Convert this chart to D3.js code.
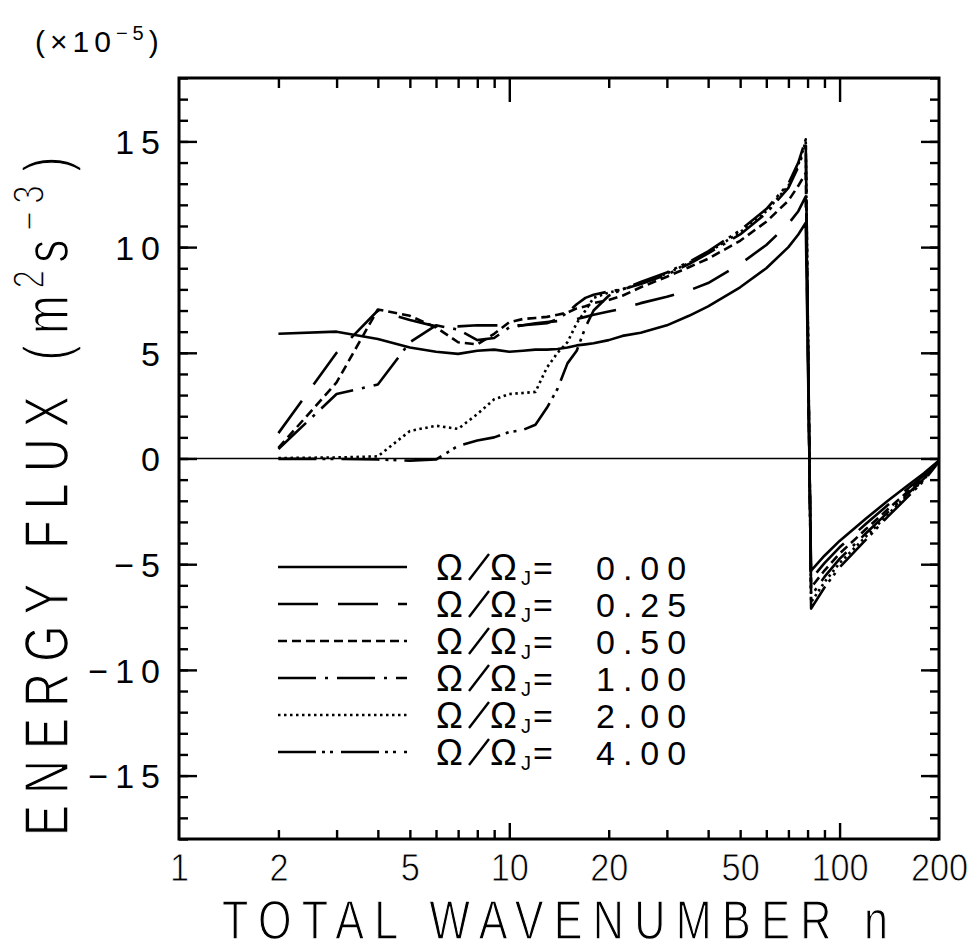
<!DOCTYPE html>
<html>
<head>
<meta charset="utf-8">
<script src="https://cdn.jsdelivr.net/npm/d3@7"></script>
<style>
  html, body { margin: 0; padding: 0; background: #fff; }
  svg { display: block; }
</style>
</head>
<body>
<svg id="chart" width="978" height="950"></svg>
<script>
// ---- data ----
const wavenumbers = [2,3,4,5,6,7,8,9,10,11,12,13,14,15,16,17,18,20,22,25,30,35,40,50,60,70,75,79,82,90,100,120,140,160,180,200];
const flux000 = [5.9,6.0,5.65,5.25,5.05,4.95,5.1,5.15,5.05,5.1,5.15,5.15,5.18,5.25,5.35,5.4,5.45,5.6,5.8,5.95,6.3,6.75,7.2,8.1,9.0,10.0,10.6,11.15,-5.3,-4.6,-3.9,-2.85,-2.0,-1.3,-0.7,-0.1];
const flux025 = [1.2,5.0,7.0,6.55,6.25,6.25,6.3,6.3,6.3,6.3,6.4,6.45,6.5,6.55,6.6,6.7,6.8,6.95,7.1,7.35,7.65,7.95,8.3,9.2,10.1,11.1,11.7,12.4,-5.7,-4.95,-4.2,-3.1,-2.2,-1.45,-0.8,-0.1];
const flux050 = [0.5,3.6,7.05,6.75,6.2,5.5,5.4,5.9,6.45,6.6,6.65,6.7,6.8,6.9,7.1,7.2,7.35,7.5,7.7,8.1,8.6,9.05,9.45,10.3,11.2,12.2,12.9,13.5,-6.1,-5.3,-4.5,-3.35,-2.4,-1.6,-0.9,-0.12];
const flux100 = [0.45,3.05,3.5,5.5,6.3,6.1,5.6,5.7,6.2,6.3,6.35,6.4,6.6,6.9,7.3,7.6,7.75,7.9,8.0,8.25,8.7,9.2,9.7,10.6,11.6,12.8,13.8,14.8,-6.5,-5.6,-4.75,-3.55,-2.55,-1.7,-0.95,-0.12];
const flux200 = [0.02,0.05,0.1,1.3,1.55,1.4,2.1,2.8,3.05,3.1,3.15,4.3,5.0,5.5,6.4,7.0,7.6,7.85,8.0,8.3,8.75,9.25,9.75,10.7,11.7,12.9,13.9,15.0,-6.8,-5.85,-4.95,-3.7,-2.65,-1.75,-1.0,-0.12];
const flux400 = [-0.02,-0.02,-0.05,-0.1,-0.05,0.6,0.85,1.0,1.25,1.35,1.6,2.4,3.3,4.5,5.1,6.2,7.0,7.7,8.0,8.35,8.8,9.3,9.8,10.8,11.8,13.0,14.0,15.1,-7.1,-6.1,-5.15,-3.85,-2.75,-1.85,-1.05,-0.15];
const seriesValues = ["0.00","0.25","0.50","1.00","2.00","4.00"];
const xTickLabels = [1,2,5,10,20,50,100,200];
const xMajorTicks = [10,100];
const xMinorTicks = [2,3,4,5,6,7,8,9,20,30,40,50,60,70,80,90];
const yTickLabels = [-15,-10,-5,0,5,10,15];
const yMinorTicks = d3.range(-18,19,1);

// ---- styles ----
const dashes = [null, "40,20", "9,5", "38,9,3,9", "2.5,3.5", "38,6,3,5,3,8"];
const allFlux = [flux000, flux025, flux050, flux100, flux200, flux400];

const L = 179, R = 939, T = 78, B = 839;
const svg = d3.select("#chart");
const x = d3.scaleLog().domain([1,200]).range([L,R]);
const y = d3.scaleLinear().domain([-18,18]).range([B,T]);

const tickFont = "'Liberation Sans', Arial, sans-serif";

// zero line
svg.append("line").attr("x1", L).attr("x2", R).attr("y1", y(0)).attr("y2", y(0))
  .attr("stroke", "#000").attr("stroke-width", 1.6);

// data lines
const line = d3.line().x(d => x(d.n)).y(d => y(d.v));
allFlux.forEach((arr, i) => {
  const pts = wavenumbers.map((n, j) => ({n, v: arr[j]}));
  svg.append("path").datum(pts).attr("d", line)
    .attr("fill", "none").attr("stroke", "#000").attr("stroke-width", 2.6)
    .attr("stroke-linejoin", "round")
    .attr("stroke-dasharray", dashes[i]);
});

// ticks via d3 axes (inward)
function styleAxis(g) {
  g.select(".domain").remove();
  g.selectAll("line").attr("stroke", "#000").attr("stroke-width", 2.4);
  g.selectAll("text").remove();
}
svg.append("g").attr("transform", `translate(0,${B})`)
  .call(d3.axisBottom(x).tickValues(xMinorTicks).tickSize(-9).tickFormat("")).call(styleAxis);
svg.append("g").attr("transform", `translate(0,${B})`)
  .call(d3.axisBottom(x).tickValues(xMajorTicks).tickSize(-16).tickFormat("")).call(styleAxis);
svg.append("g").attr("transform", `translate(0,${T})`)
  .call(d3.axisTop(x).tickValues(xMinorTicks).tickSize(-10).tickFormat("")).call(styleAxis);
svg.append("g").attr("transform", `translate(0,${T})`)
  .call(d3.axisTop(x).tickValues(xMajorTicks).tickSize(-24).tickFormat("")).call(styleAxis);
svg.append("g").attr("transform", `translate(${L},0)`)
  .call(d3.axisLeft(y).tickValues(yMinorTicks).tickSize(-9).tickFormat("")).call(styleAxis);
svg.append("g").attr("transform", `translate(${L},0)`)
  .call(d3.axisLeft(y).tickValues(yTickLabels).tickSize(-18).tickFormat("")).call(styleAxis);
svg.append("g").attr("transform", `translate(${R},0)`)
  .call(d3.axisRight(y).tickValues(yMinorTicks).tickSize(-9).tickFormat("")).call(styleAxis);
svg.append("g").attr("transform", `translate(${R},0)`)
  .call(d3.axisRight(y).tickValues(yTickLabels).tickSize(-18).tickFormat("")).call(styleAxis);

// frame
svg.append("rect").attr("x", L).attr("y", T).attr("width", R-L).attr("height", B-T)
  .attr("fill", "none").attr("stroke", "#000").attr("stroke-width", 3);

// x tick labels
const gx = svg.append("g").attr("transform", `translate(0,${B})`)
  .call(d3.axisBottom(x).tickValues(xTickLabels).tickSize(0).tickPadding(14).tickFormat(d3.format("d")));
gx.select(".domain").remove();
gx.selectAll("text").attr("font-family", tickFont).attr("font-size", 39).attr("fill", "#000")
  .attr("stroke", "#fff").attr("stroke-width", 0.8)
  .attr("transform", "scale(0.88,1)");

// y tick labels
const gy = svg.append("g").attr("transform", `translate(${L},0)`)
  .call(d3.axisLeft(y).tickValues(yTickLabels).tickSize(0).tickPadding(12)
    .tickFormat(d => d < 0 ? "\u2212" + Math.abs(d) : String(d)));
gy.select(".domain").remove();
gy.selectAll("text").attr("font-family", tickFont).attr("font-size", 34).attr("fill", "#000")
  .attr("letter-spacing", 7).attr("dy", "0.36em");

// x title
svg.append("text").attr("transform", "translate(222,939) scale(0.77,1)")
  .attr("font-family", tickFont).attr("font-size", 56).attr("fill", "#000")
  .attr("stroke", "#fff").attr("stroke-width", 1.3)
  .attr("textLength", 666/0.77).attr("lengthAdjust", "spacing")
  .text("TOTAL WAVENUMBER n");

// y title
const yt = svg.append("text").attr("transform", "translate(68,836) rotate(-90) scale(0.75,1)")
  .attr("font-family", tickFont).attr("font-size", 62).attr("fill", "#000")
  .attr("stroke", "#fff").attr("stroke-width", 1.4);
yt.append("tspan").attr("letter-spacing", 15).text("ENERGY FLUX (m");
yt.append("tspan").attr("font-size", 44).attr("dy", -24).attr("dx", -6).attr("letter-spacing", 10).text("2");
yt.append("tspan").attr("dy", 24).attr("letter-spacing", 12).text("s");
yt.append("tspan").attr("font-size", 44).attr("dy", -24).attr("letter-spacing", 10).text("\u22123");
yt.append("tspan").attr("dy", 24).attr("dx", 8).text(")");

// multiplier
const mt = svg.append("text").attr("x", 35).attr("y", 52)
  .attr("font-family", tickFont).attr("font-size", 30).attr("fill", "#000").attr("letter-spacing", 5);
mt.append("tspan").text("(\u00d710");
mt.append("tspan").attr("font-size", 20).attr("dy", -12).text("\u22125");
mt.append("tspan").attr("dy", 12).text(")");

// legend
const rowY = [567, 604, 641, 678, 715, 752];
seriesValues.forEach((val, i) => {
  const yy = rowY[i];
  svg.append("line").attr("x1", 278).attr("x2", 407).attr("y1", yy).attr("y2", yy)
    .attr("stroke", "#000").attr("stroke-width", 2.6).attr("stroke-dasharray", dashes[i]);
  const base = yy + 13;
  const g = svg.append("g").attr("font-family", tickFont).attr("fill", "#000");
  g.append("text").attr("x", 436).attr("y", base).attr("font-size", 36).text("\u03a9");
  g.append("line").attr("x1", 469).attr("y1", base).attr("x2", 489).attr("y2", base - 26)
    .attr("stroke", "#000").attr("stroke-width", 2.4);
  g.append("text").attr("x", 490).attr("y", base).attr("font-size", 36).text("\u03a9");
  g.append("text").attr("x", 521).attr("y", base + 5).attr("font-size", 20).text("J");
  g.append("text").attr("x", 533).attr("y", base).attr("font-size", 34).text("=");
  g.append("text").attr("x", 596).attr("y", base).attr("font-size", 34).attr("letter-spacing", 8).text(val);
});
</script>
</body>
</html>
